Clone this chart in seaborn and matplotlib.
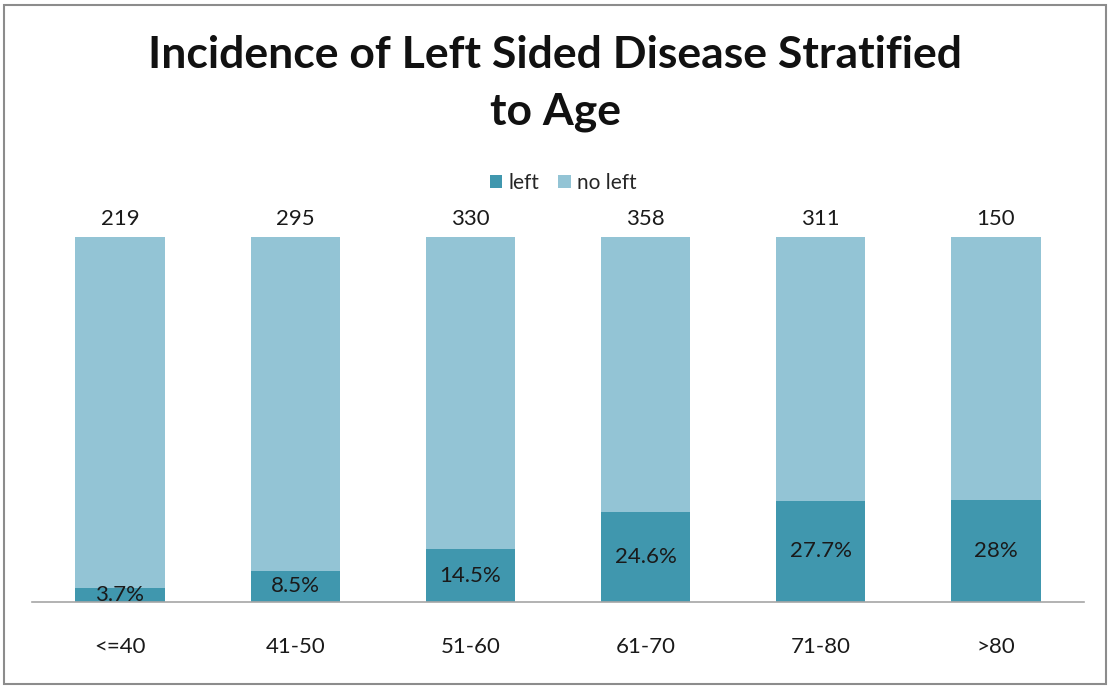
import matplotlib
matplotlib.use("Agg")
import matplotlib.pyplot as plt
import seaborn as sns
import pandas as pd
from matplotlib.patches import Rectangle, Patch

age_groups = ["<=40", "41-50", "51-60", "61-70", "71-80", ">80"]
pct_left = [3.7, 8.5, 14.5, 24.6, 27.7, 28.0]
pct_left_labels = ["3.7%", "8.5%", "14.5%", "24.6%", "27.7%", "28%"]
pct_no_left = [96.3, 91.5, 85.5, 75.4, 72.3, 72.0]
group_totals = [219, 295, 330, 358, 311, 150]

DARK = "#4097AE"
LIGHT = "#93C4D5"

sns.set_theme(style="white")
plt.rcParams["font.family"] = ["Lato", "DejaVu Sans"]

df = pd.DataFrame({
    "age": age_groups,
    "left": pct_left,
    "no_left": pct_no_left,
})
df["stack_top"] = df["left"] + df["no_left"]

fig = plt.figure(figsize=(11.11, 6.87), dpi=100)
ax = fig.add_axes([32.4 / 1111, 1 - 602 / 687, (1083.6 - 32.4) / 1111, (602 - 237) / 687])

# full stack (no left sits on top of left)
sns.barplot(data=df, x="age", y="stack_top", color=LIGHT, width=0.51,
            saturation=1, ax=ax, linewidth=0)
sns.barplot(data=df, x="age", y="left", color=DARK, width=0.51,
            saturation=1, ax=ax, linewidth=0)

full_bars = ax.containers[0]
left_bars = ax.containers[1]
ax.bar_label(full_bars, labels=[str(t) for t in group_totals], padding=6,
             fontsize=16, color="#1a1a1a")
ax.bar_label(left_bars, labels=pct_left_labels, label_type="center",
             fontsize=16, color="#1a1a1a")

ax.set_xlim(-0.5, 5.5)
ax.set_ylim(0, 100)
ax.set_xlabel("")
ax.set_ylabel("")
ax.set_yticks([])
ax.tick_params(axis="x", length=0, pad=25, labelsize=16, labelcolor="#1a1a1a")
for side in ["top", "left", "right"]:
    ax.spines[side].set_visible(False)
ax.spines["bottom"].set_color("#a6a6a6")
ax.spines["bottom"].set_linewidth(1.2)

fig.text(0.5, 1 - 55 / 687, "Incidence of Left Sided Disease Stratified",
         ha="center", va="center", fontsize=32, fontweight="bold", color="#111111")
fig.text(0.5, 1 - 112 / 687, "to Age",
         ha="center", va="center", fontsize=32, fontweight="bold", color="#111111")

handles = [Patch(facecolor=DARK, edgecolor="none"),
           Patch(facecolor=LIGHT, edgecolor="none")]
fig.legend(handles, ["left", "no left"], loc="center",
           bbox_to_anchor=(0.507, 1 - 183 / 687), ncol=2, frameon=False,
           fontsize=15, handlelength=0.6, handleheight=0.6, handletextpad=0.3,
           columnspacing=0.9)

fig.patches.append(Rectangle((4 / 1111, 1 - 684 / 687), 1102 / 1111, 679 / 687,
                             transform=fig.transFigure, fill=False,
                             edgecolor="#8c8c8c", linewidth=1.5))

fig.savefig("out.png", dpi=100)
